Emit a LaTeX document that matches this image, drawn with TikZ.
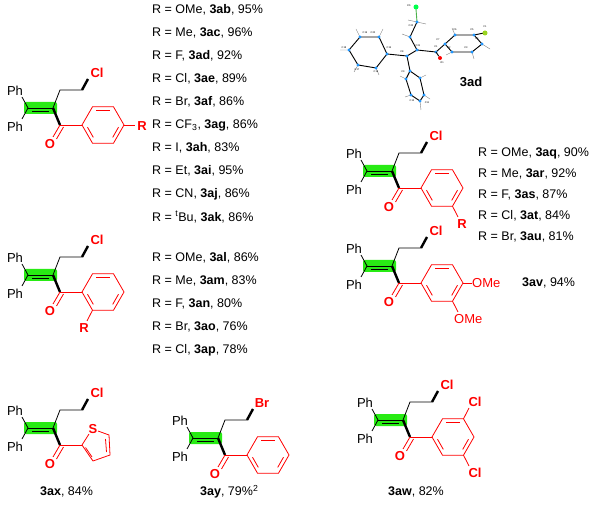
\documentclass[tikz,border=0pt]{standalone}
\usepackage{fontspec}
\setmainfont{Liberation Sans}
\begin{document}
\begin{tikzpicture}[x=1pt,y=-1pt,
  bond/.style={line width=0.8pt,black},
  rbond/.style={line width=0.8pt,chemred},
  wedge/.style={line width=2.4pt,black},
  hl/.style={fill=hlgreen},
  lab/.style={font=\fontsize{13}{15}\selectfont,inner sep=0pt},
  hal/.style={font=\fontsize{13}{15}\selectfont\bfseries,text=chemred,inner sep=0pt},
  txt/.style={font=\fontsize{12.5}{15}\selectfont,anchor=west,inner sep=0pt},
  atom/.style={circle,fill=atomblue,inner sep=0pt,minimum size=3.4pt},
  hb/.style={line width=0.4pt,gray},
  cb/.style={line width=0.9pt,black},
  tl/.style={font=\fontsize{2.5}{3}\selectfont,inner sep=0pt}]
\definecolor{chemred}{RGB}{255,0,0}
\definecolor{hlgreen}{RGB}{40,235,20}
\definecolor{atomblue}{RGB}{30,150,255}
\useasboundingbox (0,0) rectangle (613,510);
\fill[white] (0,0) rectangle (613,510);

\newcommand\mcore[5]{%
\begin{scope}[shift={(#2,#3)}]
\fill[hl,rounded corners=2pt] (-29,-6) rectangle (4,6);
\draw[bond] (-25,0)--(0,0); \draw[bond] (-21,3.5)--(-4,3.5);
\draw[bond] (-25,0)--(-31,-11); \draw[bond] (-25,0)--(-31,11);
\node[lab] (#1ph1) at (-38,-17) {Ph};
\node[lab] (#1ph2) at (-38,19) {Ph};
\draw[bond] (0,0)--(7,-18)--(29,-18);
\draw[wedge] (29,-18)--(35,-29);
\node[hal] (#1x) at (44,-35) {#4};
\draw[wedge] (0,0)--(7,17);
\draw[rbond] (7,17)--(0,29); \draw[rbond] (10.5,19)--(3.5,31);
\node[hal] (#1o) at (-3,36) {O};
\draw[rbond] (7,17)--(29,17);
#5
\end{scope}}
\newcommand\phring{%
\draw[rbond] (29,17)--(39.5,-1.2)--(60.5,-1.2)--(71,17)--(60.5,35.2)--(39.5,35.2)--cycle;
\draw[rbond] (43,2.4)--(57,2.4);
\draw[rbond] (65.5,19.2)--(59.7,29.4);
\draw[rbond] (40.3,29.4)--(34.5,19.2);}

% 3ab series
\mcore{a}{53}{108}{Cl}{\phring \draw[rbond] (71,17)--(82,17); \node[hal] (ar) at (89,18) {R};}
\node[txt] (t1) at (152,10) {R = OMe, \textbf{3ab}, 95\%};
\node[txt] (t2) at (152,33) {R = Me, \textbf{3ac}, 96\%};
\node[txt] (t3) at (152,56) {R = F, \textbf{3ad}, 92\%};
\node[txt] (t4) at (152,79) {R = Cl, \textbf{3ae}, 89\%};
\node[txt] (t5) at (152,102) {R = Br, \textbf{3af}, 86\%};
\node[txt] (t6) at (152,125) {R = CF\textsubscript{3}, \textbf{3ag}, 86\%};
\node[txt] (t7) at (152,148) {R = I, \textbf{3ah}, 83\%};
\node[txt] (t8) at (152,171) {R = Et, \textbf{3ai}, 95\%};
\node[txt] (t9) at (152,194) {R = CN, \textbf{3aj}, 86\%};
\node[txt] (t10) at (152,217) {R = \textsuperscript{t}Bu, \textbf{3ak}, 86\%};

% 3aq series
\mcore{q}{392}{171}{Cl}{\phring \draw[rbond] (60.5,35.2)--(66,46); \node[hal] (qr) at (70,53) {R};}
\node[txt] (q1) at (478,153) {R = OMe, \textbf{3aq}, 90\%};
\node[txt] (q2) at (478,174) {R = Me, \textbf{3ar}, 92\%};
\node[txt] (q3) at (478,195) {R = F, \textbf{3as}, 87\%};
\node[txt] (q4) at (478,216) {R = Cl, \textbf{3at}, 84\%};
\node[txt] (q5) at (478,237) {R = Br, \textbf{3au}, 81\%};

% 3al series
\mcore{l}{53}{275}{Cl}{\phring \draw[rbond] (39.5,35.2)--(34,46); \node[hal] (lr) at (31,53) {R};}
\node[txt] (l1) at (152,258) {R = OMe, \textbf{3al}, 86\%};
\node[txt] (l2) at (152,281) {R = Me, \textbf{3am}, 83\%};
\node[txt] (l3) at (152,304) {R = F, \textbf{3an}, 80\%};
\node[txt] (l4) at (152,327) {R = Br, \textbf{3ao}, 76\%};
\node[txt] (l5) at (152,350) {R = Cl, \textbf{3ap}, 78\%};

% 3av
\mcore{v}{392}{266}{Cl}{\phring \draw[rbond] (71,17)--(80,17);
 \node[lab,text=chemred,anchor=west] (vo1) at (80,17.5) {OMe};
 \draw[rbond] (60.5,35.2)--(66,46);
 \node[lab,text=chemred,anchor=west] (vo2) at (62,53) {OMe};}
\node[txt] (vl) at (522,283) {\textbf{3av}, 94\%};

% 3ax
\mcore{x}{53}{428}{Cl}{%
 \draw[rbond] (36,6)--(29,17)--(40,33)--(57,27)--(56,7)--(45,3);
 \draw[rbond] (52.5,11)--(53.5,24); \draw[rbond] (39,29)--(32.5,19.5);
 \node[hal] (xs) at (40,1) {S};}
\node[txt] (xl) at (40,492) {\textbf{3ax}, 84\%};

% 3ay
\mcore{y}{218}{438}{Br}{\phring}
\node[txt] (yl) at (200,492) {\textbf{3ay}, 79\%\textsuperscript{2}};

% 3aw
\mcore{w}{403}{420}{Cl}{\phring
 \draw[rbond] (60.5,-1.2)--(66,-12); \node[hal] (wc1) at (72,-18) {Cl};
 \draw[rbond] (60.5,35.2)--(66,46); \node[hal] (wc2) at (72,53) {Cl};}
\node[txt] (wl) at (388,492) {\textbf{3aw}, 82\%};

% crystal structure 3ad
\draw[cb] (360,37)--(379,37)--(387,54)--(376,68)--(358,65)--(349,50)--cycle;
\draw[cb] (387,54)--(407,56)--(417,50)--(410,37)--(417,22);
\draw[cb] (417,50)--(436,52)--(445,44)--(455,35)--(474,35)--(482,44)--(472,52)--(452,52)--(445,44);
\draw[cb] (407,56)--(410,71)--(420,78)--(424,95)--(420,101)--(411,95)--(406,79)--(410,71);
\draw[line width=0.9pt,gray!60!green] (417,22)--(416,9);
\draw[cb] (474,35)--(484,33);
\draw[hb] (360,37)--(356,29) (379,37)--(383,29) (376,68)--(379,75) (358,65)--(354,72) (349,50)--(340,50)
 (410,37)--(402,34) (417,22)--(426,24) (455,35)--(452,28) (482,44)--(490,49) (472,52)--(474,59) (452,52)--(446,55)
 (420,78)--(426,75) (424,95)--(430,99) (420,101)--(421,110) (411,95)--(405,97) (406,79)--(400,76) (417,22)--(408,20);
\foreach \p in {(360,37),(379,37),(387,54),(376,68),(358,65),(349,50),(407,56),(417,50),(410,37),(417,22),(436,52),(445,44),(455,35),(474,35),(482,44),(472,52),(452,52),(410,71),(420,78),(424,95),(420,101),(411,95),(406,79)}
 \node[atom] at \p {};
\node[circle,fill=green!70!cyan,inner sep=0pt,minimum size=5pt] (ccl) at (416,7) {};
\node[circle,fill=yellow!60!green,inner sep=0pt,minimum size=5pt] (cf) at (485,33) {};
\node[circle,fill=red,inner sep=0pt,minimum size=4pt] (co) at (440,58) {};
\draw[cb] (436,52)--(co);
\node[tl] at (409,6) {Cl1}; \node[tl] at (485,27) {F1}; \node[tl] at (442,63) {O1};
\node[tl] at (436,47) {C1}; \node[tl] at (418,46) {C21}; \node[tl] at (402,52) {C8};
\node[tl] at (389,48) {C15}; \node[tl] at (411,26) {C20}; \node[tl] at (449,48) {C2};
\node[tl] at (466,48) {C3}; \node[tl] at (477,39) {C4}; \node[tl] at (472,30) {C5};
\node[tl] at (455,30) {C6}; \node[tl] at (438,40) {C7}; \node[tl] at (403,72) {C9};
\node[tl] at (427,103) {C11}; \node[tl] at (412,101) {C12}; \node[tl] at (365,33) {C19};
\node[tl] at (373,33) {C20}; \node[tl] at (344,48) {C18}; \node[tl] at (357,70) {C17}; \node[tl] at (376,72) {C16};
\node[lab,font=\fontsize{13}{15}\selectfont\bfseries] (l3ad) at (471,82) {3ad};
\end{tikzpicture}
\end{document}
